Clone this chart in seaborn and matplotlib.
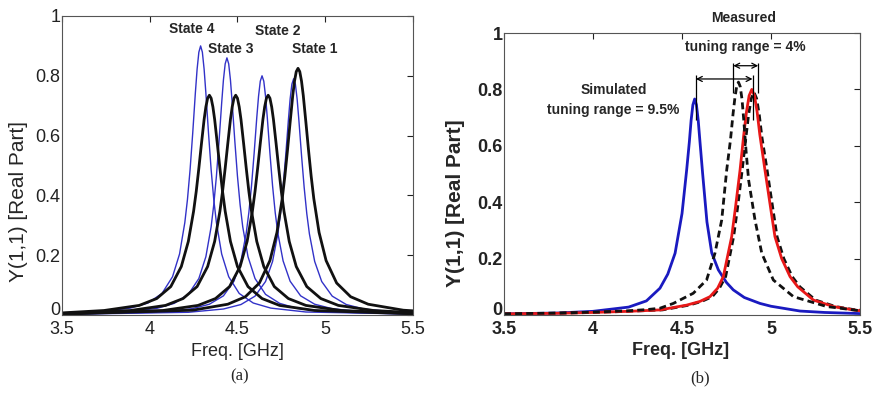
import matplotlib
matplotlib.use("Agg")
import matplotlib.pyplot as plt
import seaborn as sns

# ==========================================================
# (a) Y(1,1) real part, four tuning states
# ==========================================================

state_names = ["State 1", "State 2", "State 3", "State 4"]
state_label_x = [4.94, 4.73, 4.46, 4.24]
state_label_y = [0.889, 0.950, 0.889, 0.955]

# thin blue curves
s1_blue_x = [3.5, 4.22, 4.42, 4.52, 4.60, 4.66, 4.70, 4.73, 4.745, 4.76, 4.775, 4.79, 4.80, 4.81, 4.82,
             4.83, 4.84, 4.85, 4.865, 4.88, 4.895, 4.91, 4.94, 4.98, 5.04, 5.12, 5.22, 5.42, 5.5]
s1_blue_y = [0.002, 0.009, 0.020, 0.035, 0.063, 0.112, 0.179, 0.271, 0.339, 0.427, 0.534, 0.651, 0.722, 0.772, 0.790,
             0.772, 0.722, 0.651, 0.534, 0.427, 0.339, 0.271, 0.179, 0.112, 0.063, 0.035, 0.020, 0.009, 0.007]

s2_blue_x = [3.5, 4.04, 4.24, 4.34, 4.42, 4.48, 4.52, 4.55, 4.565, 4.58, 4.595, 4.61, 4.62, 4.63, 4.64,
             4.65, 4.66, 4.67, 4.685, 4.70, 4.715, 4.73, 4.76, 4.80, 4.86, 4.94, 5.04, 5.24, 5.5]
s2_blue_y = [0.003, 0.009, 0.021, 0.036, 0.064, 0.113, 0.181, 0.274, 0.343, 0.432, 0.541, 0.660, 0.731, 0.782, 0.800,
             0.782, 0.731, 0.660, 0.541, 0.432, 0.343, 0.274, 0.181, 0.113, 0.064, 0.036, 0.021, 0.009, 0.005]

s3_blue_x = [3.5, 3.84, 4.04, 4.14, 4.22, 4.28, 4.32, 4.35, 4.365, 4.38, 4.395, 4.41, 4.42, 4.43, 4.44,
             4.45, 4.46, 4.47, 4.485, 4.50, 4.515, 4.53, 4.56, 4.60, 4.66, 4.74, 4.84, 5.04, 5.5]
s3_blue_y = [0.004, 0.010, 0.022, 0.039, 0.069, 0.122, 0.195, 0.295, 0.369, 0.464, 0.581, 0.709, 0.786, 0.840, 0.860,
             0.840, 0.786, 0.709, 0.581, 0.464, 0.369, 0.295, 0.195, 0.122, 0.069, 0.039, 0.022, 0.010, 0.003]

s4_blue_x = [3.5, 3.69, 3.89, 3.99, 4.07, 4.13, 4.17, 4.20, 4.215, 4.23, 4.245, 4.26, 4.27, 4.28, 4.29,
             4.30, 4.31, 4.32, 4.335, 4.35, 4.365, 4.38, 4.41, 4.45, 4.51, 4.59, 4.69, 4.89, 5.5]
s4_blue_y = [0.006, 0.010, 0.023, 0.040, 0.072, 0.128, 0.204, 0.309, 0.386, 0.486, 0.608, 0.742, 0.822, 0.879, 0.900,
             0.879, 0.822, 0.742, 0.608, 0.486, 0.386, 0.309, 0.204, 0.128, 0.072, 0.040, 0.023, 0.010, 0.003]

# thick black curves
s1_black_x = [3.5, 4.245, 4.445, 4.545, 4.625, 4.685, 4.725, 4.755, 4.77, 4.785, 4.80, 4.815, 4.825, 4.835, 4.845,
              4.855, 4.865, 4.875, 4.89, 4.905, 4.92, 4.935, 4.965, 5.005, 5.065, 5.145, 5.245, 5.445, 5.5]
s1_black_y = [0.003, 0.016, 0.036, 0.061, 0.107, 0.182, 0.276, 0.389, 0.464, 0.551, 0.644, 0.734, 0.782, 0.814, 0.825,
              0.814, 0.782, 0.734, 0.644, 0.551, 0.464, 0.389, 0.276, 0.182, 0.107, 0.061, 0.036, 0.016, 0.014]

s2_black_x = [3.5, 4.075, 4.275, 4.375, 4.455, 4.515, 4.555, 4.585, 4.60, 4.615, 4.63, 4.645, 4.655, 4.665, 4.675,
              4.685, 4.695, 4.705, 4.72, 4.735, 4.75, 4.765, 4.795, 4.835, 4.895, 4.975, 5.075, 5.275, 5.5]
s2_black_y = [0.004, 0.015, 0.032, 0.055, 0.095, 0.162, 0.246, 0.347, 0.413, 0.491, 0.574, 0.654, 0.696, 0.725, 0.735,
              0.725, 0.696, 0.654, 0.574, 0.491, 0.413, 0.347, 0.246, 0.162, 0.095, 0.055, 0.032, 0.015, 0.008]

s3_black_x = [3.5, 3.89, 4.09, 4.19, 4.27, 4.33, 4.37, 4.40, 4.415, 4.43, 4.445, 4.46, 4.47, 4.48, 4.49,
              4.50, 4.51, 4.52, 4.535, 4.55, 4.565, 4.58, 4.61, 4.65, 4.71, 4.79, 4.89, 5.09, 5.5]
s3_black_y = [0.005, 0.015, 0.032, 0.055, 0.095, 0.162, 0.246, 0.347, 0.413, 0.491, 0.574, 0.654, 0.696, 0.725, 0.735,
              0.725, 0.696, 0.654, 0.574, 0.491, 0.413, 0.347, 0.246, 0.162, 0.095, 0.055, 0.032, 0.015, 0.005]

s4_black_x = [3.5, 3.74, 3.94, 4.04, 4.12, 4.18, 4.22, 4.25, 4.265, 4.28, 4.295, 4.31, 4.32, 4.33, 4.34,
              4.35, 4.36, 4.37, 4.385, 4.40, 4.415, 4.43, 4.46, 4.50, 4.56, 4.64, 4.74, 4.94, 5.5]
s4_black_y = [0.007, 0.015, 0.032, 0.055, 0.095, 0.162, 0.246, 0.347, 0.413, 0.491, 0.574, 0.654, 0.696, 0.725, 0.735,
              0.725, 0.696, 0.654, 0.574, 0.491, 0.413, 0.347, 0.246, 0.162, 0.095, 0.055, 0.032, 0.015, 0.004]

# ==========================================================
# (b) simulated vs measured
# ==========================================================

sim_blue_x = [3.5, 3.8, 4.0, 4.2, 4.3, 4.376, 4.42, 4.461, 4.5, 4.526, 4.541, 4.551, 4.561, 4.571, 4.581,
              4.591, 4.601, 4.616, 4.64, 4.667, 4.704, 4.75, 4.788, 4.85, 4.938, 5.0, 5.163, 5.3, 5.5]
sim_blue_y = [0.004, 0.007, 0.013, 0.028, 0.050, 0.095, 0.145, 0.219, 0.36, 0.514, 0.613, 0.69, 0.745, 0.766, 0.745,
              0.69, 0.613, 0.50, 0.33, 0.22, 0.16, 0.115, 0.089, 0.062, 0.041, 0.031, 0.014, 0.009, 0.005]

sim_red_x = [3.5, 3.8, 4.0, 4.2, 4.376, 4.526, 4.60, 4.657, 4.70, 4.732, 4.779, 4.80, 4.826, 4.847, 4.862,
             4.877, 4.892, 4.907, 4.922, 4.937, 4.966, 5.0, 5.022, 5.06, 5.107, 5.15, 5.238, 5.35, 5.463, 5.5]
sim_red_y = [0.004, 0.006, 0.009, 0.013, 0.018, 0.035, 0.048, 0.065, 0.095, 0.136, 0.278, 0.38, 0.514, 0.64, 0.72,
             0.778, 0.80, 0.778, 0.72, 0.64, 0.514, 0.37, 0.278, 0.20, 0.136, 0.10, 0.053, 0.03, 0.018, 0.015]

meas_a_x = [3.5, 3.8, 4.0, 4.2, 4.3, 4.376, 4.451, 4.563, 4.638, 4.685, 4.723, 4.751, 4.772, 4.787,
            4.797, 4.807, 4.817, 4.827, 4.837, 4.847, 4.86, 4.874, 4.91, 4.948, 5.013, 5.126, 5.313, 5.5]
meas_a_y = [0.004, 0.007, 0.010, 0.015, 0.019, 0.024, 0.041, 0.077, 0.124, 0.219, 0.337, 0.514, 0.62, 0.715,
            0.77, 0.81, 0.826, 0.81, 0.765, 0.69, 0.58, 0.479, 0.337, 0.219, 0.124, 0.065, 0.030, 0.015]

meas_b_x = [3.5, 3.8, 4.0, 4.2, 4.39, 4.54, 4.61, 4.67, 4.71, 4.745, 4.79, 4.812, 4.838, 4.859, 4.874,
            4.889, 4.904, 4.919, 4.934, 4.949, 4.978, 5.012, 5.034, 5.072, 5.119, 5.162, 5.25, 5.362, 5.475, 5.5]
meas_b_y = [0.004, 0.006, 0.009, 0.013, 0.018, 0.035, 0.048, 0.065, 0.095, 0.136, 0.278, 0.38, 0.514, 0.63, 0.71,
            0.768, 0.79, 0.768, 0.71, 0.63, 0.514, 0.37, 0.278, 0.20, 0.136, 0.10, 0.053, 0.03, 0.018, 0.017]

# tuning-range brackets
sim_bracket_x = [4.578, 4.896]
sim_bracket_y = [0.691, 0.851]
sim_arrow_y = 0.837
meas_bracket_x = [4.788, 4.928]
meas_bracket_y = [0.786, 0.893]
meas_arrow_y = 0.884

x_ticks = [3.5, 4, 4.5, 5, 5.5]
x_tick_labels = ["3.5", "4", "4.5", "5", "5.5"]
y_ticks = [0, 0.2, 0.4, 0.6, 0.8, 1]
y_tick_labels = ["0", "0.2", "0.4", "0.6", "0.8", "1"]

# ----------------------------------------------------------

sns.set_theme(style="white")
plt.rcParams["font.family"] = ["Liberation Sans", "DejaVu Sans"]

fig = plt.figure(figsize=(8.74, 3.93), dpi=100)
ax_a = fig.add_axes([0.0709, 0.1985, 0.4016, 0.7608])
ax_b = fig.add_axes([0.5767, 0.1985, 0.4073, 0.7175])


def style_axis(ax, weight):
    ax.set_xlim(3.5, 5.5)
    ax.set_ylim(0, 1)
    ax.set_xticks(x_ticks)
    ax.set_xticklabels(x_tick_labels, fontweight=weight)
    ax.set_yticks(y_ticks)
    ax.set_yticklabels(y_tick_labels, fontweight=weight)
    ax.tick_params(direction="in", top=True, right=True, length=4, width=0.8,
                   labelsize=13, colors="#222222")
    ax.tick_params(axis="x", pad=4)
    ax.tick_params(axis="y", pad=1)
    # lift the "0" so it sits just above the "3.5" below it
    ax.get_yticklabels()[0].set_verticalalignment("baseline")
    for sp in ax.spines.values():
        sp.set_color("#555555")
        sp.set_linewidth(0.8)
    ax.set_xlabel("Freq. [GHz]", fontsize=13, fontweight=weight, va="top")
    ax.set_ylabel("Y(1,1) [Real Part]", fontsize=15, fontweight=weight)


# ---------------- panel (a) ----------------
blue_curves = [(s1_blue_x, s1_blue_y), (s2_blue_x, s2_blue_y),
               (s3_blue_x, s3_blue_y), (s4_blue_x, s4_blue_y)]
black_curves = [(s1_black_x, s1_black_y), (s2_black_x, s2_black_y),
                (s3_black_x, s3_black_y), (s4_black_x, s4_black_y)]

for bx, by in blue_curves:
    sns.lineplot(x=bx, y=by, ax=ax_a, color="#3232c8", lw=1.0, sort=False)
for kx, ky in black_curves:
    sns.lineplot(x=kx, y=ky, ax=ax_a, color="#111111", lw=2.0, sort=False)

for name, tx, ty in zip(state_names, state_label_x, state_label_y):
    ax_a.text(tx, ty, name, fontsize=10, fontweight="bold", ha="center", va="center")

style_axis(ax_a, "normal")
ax_a.xaxis.set_label_coords(0.5, -0.094)
ax_a.yaxis.set_label_coords(-0.097, 0.378)

# ---------------- panel (b) ----------------
sns.lineplot(x=sim_blue_x, y=sim_blue_y, ax=ax_b, color="#1a1ac0", lw=2.0, sort=False)
sns.lineplot(x=meas_b_x, y=meas_b_y, ax=ax_b, color="#111111", lw=2.0,
             linestyle=(0, (2.5, 1.5)), sort=False)
sns.lineplot(x=sim_red_x, y=sim_red_y, ax=ax_b, color="#e81818", lw=2.0, sort=False)
sns.lineplot(x=meas_a_x, y=meas_a_y, ax=ax_b, color="#111111", lw=2.0,
             linestyle=(0, (2.5, 1.5)), sort=False)

ax_b.vlines(sim_bracket_x, sim_bracket_y[0], sim_bracket_y[1], color="black", lw=0.9)
ax_b.vlines(meas_bracket_x, meas_bracket_y[0], meas_bracket_y[1], color="black", lw=0.9)
arrow_props = dict(arrowstyle="<->", lw=0.9, color="black",
                   mutation_scale=9, shrinkA=0, shrinkB=0)
ax_b.annotate("", xy=(sim_bracket_x[1], sim_arrow_y),
              xytext=(sim_bracket_x[0], sim_arrow_y), arrowprops=arrow_props)
ax_b.annotate("", xy=(meas_bracket_x[1], meas_arrow_y),
              xytext=(meas_bracket_x[0], meas_arrow_y), arrowprops=arrow_props)

ax_b.text(4.847, 1.052, "Measured", fontsize=10, fontweight="bold", ha="center", va="center")
ax_b.text(4.856, 0.951, "tuning range = 4%", fontsize=10, fontweight="bold",
          ha="center", va="center")
ax_b.text(4.116, 0.798, "Simulated", fontsize=10, fontweight="bold", ha="center", va="center")
ax_b.text(4.116, 0.727, "tuning range = 9.5%", fontsize=10, fontweight="bold",
          ha="center", va="center")

style_axis(ax_b, "bold")
ax_b.xaxis.set_label_coords(0.495, -0.095)
ax_b.yaxis.set_label_coords(-0.11, 0.397)

fig.text(0.2746, 0.0415, "(a)", fontsize=12, family="Liberation Serif",
         ha="center", va="center")
fig.text(0.801, 0.037, "(b)", fontsize=12, family="Liberation Serif",
         ha="center", va="center")

fig.savefig("out.png", dpi=100)
plt.close(fig)
